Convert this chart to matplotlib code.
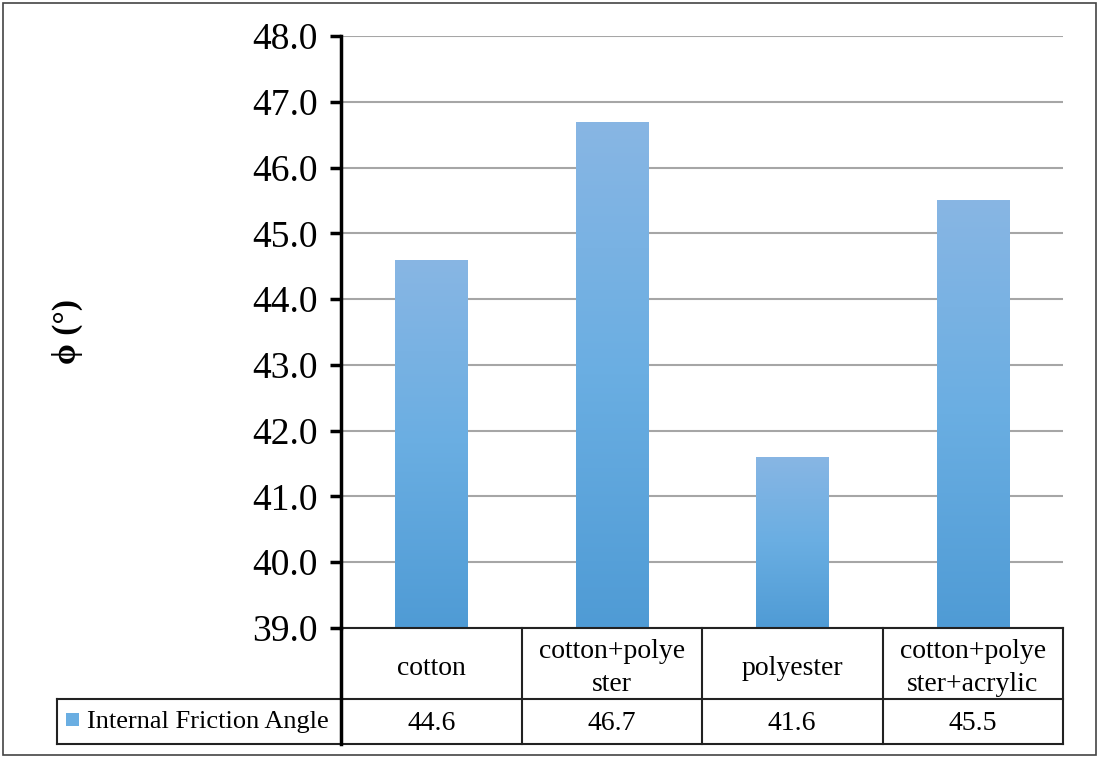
import numpy as np
import matplotlib
matplotlib.use('Agg')
import matplotlib.pyplot as plt
from matplotlib.patches import Rectangle
from matplotlib.colors import LinearSegmentedColormap

categories = ['cotton', 'cotton+polye\nster', 'polyester', 'cotton+polye\nster+acrylic']
values = [44.6, 46.7, 41.6, 45.5]
series_name = 'Internal Friction Angle'
yticks = [39.0, 40.0, 41.0, 42.0, 43.0, 44.0, 45.0, 46.0, 47.0, 48.0]

plt.rcParams['font.family'] = ['Liberation Serif', 'DejaVu Serif']

W, H = 1099, 758
fig = plt.figure(figsize=(W / 100, H / 100), dpi=100)

# outer chart border
fig.patches.append(Rectangle((3 / W, 3 / H), 1093 / W, 752 / H, transform=fig.transFigure,
                             fill=False, edgecolor='#444444', lw=1.2))

ax = fig.add_axes([341 / W, 1 - 628 / H, (1063 - 341) / W, (628 - 36) / H])
cmap = LinearSegmentedColormap.from_list('g', ['#4F9BD5', '#6AAEE2', '#88B6E4'])
grad = np.linspace(0, 1, 256).reshape(-1, 1)

x = np.arange(len(categories))
bars = ax.bar(x, values, width=0.4, color='#6AAEE2', zorder=2)
for b in bars:
    im = ax.imshow(grad, cmap=cmap, origin='lower', aspect='auto', zorder=3,
                   extent=[b.get_x(), b.get_x() + b.get_width(), yticks[0], b.get_height()])
    im.set_clip_path(b)

ax.set_xlim(-0.5, len(categories) - 0.5)
ax.set_ylim(yticks[0], yticks[-1])
ax.set_yticks(yticks)
ax.set_yticklabels(['%.1f' % t for t in yticks], fontsize=27)
ax.set_xticks([])
ax.yaxis.grid(True, color='#A6A6A6', lw=1.5, zorder=0)
for s in ['top', 'right', 'bottom']:
    ax.spines[s].set_visible(False)
ax.spines['left'].set_linewidth(2.5)
ax.tick_params(axis='y', length=8, width=2.5, pad=9)
ax.set_ylabel('\u03d5 (°)', fontsize=24, fontweight='bold')
ax.yaxis.set_label_coords(-0.357, 0.5)

# data table below the plot
leg_w = (341 - 57) / ((1063 - 341) / len(categories))
tab = fig.add_axes([57 / W, 1 - 744 / H, (1063 - 57) / W, (744 - 628) / H])
tab.set_xlim(-0.5 - leg_w, len(categories) - 0.5)
tab.set_ylim(0, 1)
tab.axis('off')
mid = 45 / 116
lc = '#222222'
tab.plot([-0.5, len(categories) - 0.5], [1, 1], color=lc, lw=1.5, clip_on=False)
for yy in [mid, 0]:
    tab.plot([-0.5 - leg_w, len(categories) - 0.5], [yy, yy], color=lc, lw=1.5, clip_on=False)
tab.plot([-0.5 - leg_w] * 2, [0, mid], color=lc, lw=1.5, clip_on=False)
tab.plot([-0.5, -0.5], [0, 1], color='black', lw=2.5, clip_on=False)
for i in range(len(categories)):
    tab.plot([i + 0.5] * 2, [0, 1], color=lc, lw=1.5, clip_on=False)
    tab.text(i, (1 + mid) / 2 - 0.04, categories[i], ha='center', va='center', fontsize=20,
             linespacing=1.45)
    tab.text(i, mid / 2 - 0.015, '%.1f' % values[i], ha='center', va='center', fontsize=20)

# legend key + series name
fig.patches.append(Rectangle((66 / W, 1 - 726 / H), 13 / W, 13 / H, transform=fig.transFigure,
                             facecolor='#6AAEE2', edgecolor='none'))
fig.text(87 / W, 1 - 722 / H, series_name, ha='left', va='center', fontsize=19)

fig.savefig('out.png', dpi=100)
